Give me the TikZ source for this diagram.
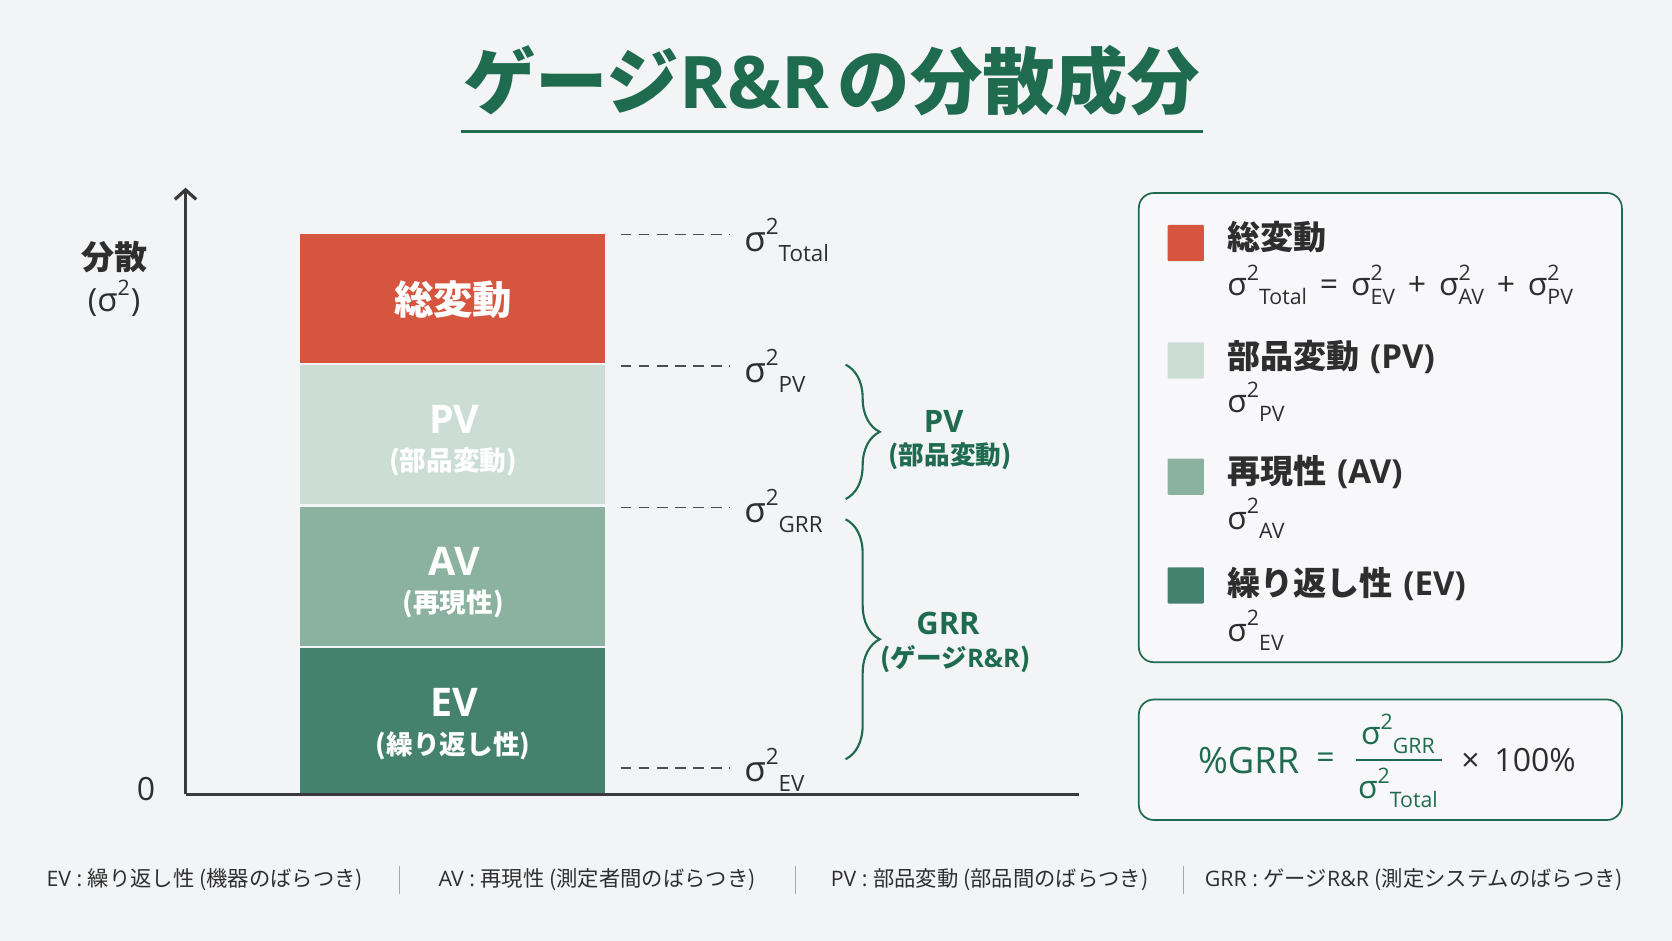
\documentclass[tikz,border=0pt]{standalone}
\usepackage{fontspec}
\setmainfont{Open Sans}
\newfontfamily\jp{Noto Sans CJK JP}
\usetikzlibrary{arrows.meta,decorations.pathreplacing}
\definecolor{bg}{HTML}{F3F4F6}
\definecolor{tgreen}{HTML}{1F6B4F}
\definecolor{cred}{HTML}{D5553F}
\definecolor{cpv}{HTML}{CCDDD6}
\definecolor{cav}{HTML}{8BB1A0}
\definecolor{cev}{HTML}{45826E}
\definecolor{ink}{HTML}{2E2E2E}
\definecolor{axisc}{HTML}{3A3A3A}
\newcommand\fs[1]{\fontsize{#1}{#1}\selectfont}
\newcommand\J[1]{{\jp #1}}
% sigma with superscript 2 then subscript after it
\newcommand\sig[3]{{\fs{#1}σ}\raisebox{0.48\dimexpr#1pt\relax}{\fs{#2}2}\raisebox{-0.28\dimexpr#1pt\relax}{\fs{#2}#3}}
% stacked version
\newcommand\sigst[3]{{\fs{#1}σ}\rlap{\raisebox{0.48\dimexpr#1pt\relax}{\fs{#2}2}}\raisebox{-0.28\dimexpr#1pt\relax}{\fs{#2}#3}}
\begin{document}
\begin{tikzpicture}[x=1pt,y=-1pt,
  txt/.style={inner sep=0pt,outer sep=0pt},
  barlbl/.style={txt,text=white,font=\bfseries},
  guide/.style={draw=axisc!90,line width=1.6pt,dash pattern=on 10pt off 7pt},
  brc/.style={draw=tgreen,line width=2pt,decorate,decoration={brace,amplitude=32pt}},
  gbox/.style={draw=tgreen,line width=1.6pt,rounded corners=14pt,fill=bg!60!white,minimum width=453pt,inner sep=0pt},
  swatch/.style={minimum width=34pt,minimum height=34pt,inner sep=0pt,rounded corners=1pt},
  leghead/.style={txt,anchor=west,text=ink,font=\bfseries\fs{31}},
  legsub/.style={txt,anchor=west,text=ink},
  foot/.style={txt,text=ink,font=\fs{20}},
  sep/.style={draw=gray!70,line width=1pt}
]
\useasboundingbox (0,0) rectangle (1568,882);
\fill[bg] (0,0) rectangle (1568,882);

% title
\node[txt,text=tgreen,font=\bfseries\fs{68}] (title) at (780,76) {\J{ゲージ}R\&R\hspace{8pt}\J{の分散成分}};
\coordinate (ulA) at (432,123);
\coordinate (ulB) at (1128,123);
\draw[tgreen,line width=3pt] (ulA) -- (ulB);

% bars
\fill[cred] (281,219) rectangle (567,340);
\fill[cpv] (281,342) rectangle (567,473);
\fill[cav] (281,475) rectangle (567,606);
\fill[cev] (281,608) rectangle (567,745);
\node[barlbl,font=\bfseries\fs{37}] (tot) at (425,281) {\J{総変動}};
\node[barlbl,font=\bfseries\fs{37}] (pv) at (426,393) {PV};
\node[barlbl,font=\fs{25}] (pvj) at (425,433) {\J{\bfseries(部品変動)}};
\node[barlbl,font=\bfseries\fs{37}] (av) at (426,526) {AV};
\node[barlbl,font=\fs{25}] (avj) at (425,566) {\J{\bfseries(再現性)}};
\node[barlbl,font=\bfseries\fs{37}] (ev) at (426,659) {EV};
\node[barlbl,font=\fs{25}] (evj) at (425,699) {\J{\bfseries(繰り返し性)}};

% axes
\coordinate (o) at (174,745);
\coordinate (ytop) at (174,176);
\coordinate (xend) at (1012,745);
\draw[axisc,line width=3pt,-{Straight Barb[length=9pt,width=20pt,line width=3pt]}] (o) -- (ytop);
\draw[axisc,line width=3pt] (o) -- (xend);
\node[txt,text=ink,font=\bfseries\fs{31}] (ylab) at (107,241) {\J{分散}};
\node[txt,text=ink,font=\fs{30}] (ylab2) at (107,282) {(\sig{31}{20}{}\hspace{1pt})};
\node[txt,text=ink,font=\fs{30}] (zero) at (137,740) {0};

% guide lines
\coordinate (g1) at (582,220); \coordinate (g1e) at (685,220);
\coordinate (g2) at (582,343); \coordinate (g2e) at (685,343);
\coordinate (g3) at (582,476); \coordinate (g3e) at (685,476);
\coordinate (g4) at (582,720); \coordinate (g4e) at (685,720);
\draw[guide] (g1) -- (g1e);
\draw[guide] (g2) -- (g2e);
\draw[guide] (g3) -- (g3e);
\draw[guide] (g4) -- (g4e);
\node[txt,anchor=west,text=ink] (s1) at (698,225) {\sig{33}{21}{Total}};
\node[txt,anchor=west,text=ink] (s2) at (698,348) {\sig{33}{21}{PV}};
\node[txt,anchor=west,text=ink] (s3) at (698,479) {\sig{33}{21}{GRR}};
\node[txt,anchor=west,text=ink] (s4) at (698,722) {\sig{33}{21}{EV}};

% braces
\coordinate (b1a) at (793,342); \coordinate (b1b) at (793,468);
\coordinate (b2a) at (793,487); \coordinate (b2b) at (793,712);
\draw[brc] (b1a) -- (b1b);
\draw[brc] (b2a) -- (b2b);
\node[txt,text=tgreen,font=\bfseries\fs{29}] (bpv) at (885,395) {PV};
\node[txt,text=tgreen,font=\bfseries\fs{24}] (bpvj) at (891,428) {\J{(部品変動)}};
\node[txt,text=tgreen,font=\bfseries\fs{29}] (bgrr) at (889,585) {GRR};
\node[txt,text=tgreen,font=\bfseries\fs{24}] (bgrrj) at (896,618) {\J{(ゲージ}R\&R\J{)}};

% legend
\node[gbox,minimum height=440pt] (leg) at (1294.5,401) {};
\node[swatch,fill=cred] (sw1) at (1112,228) {};
\node[swatch,fill=cpv] (sw2) at (1112,338) {};
\node[swatch,fill=cav] (sw3) at (1112,447) {};
\node[swatch,fill=cev] (sw4) at (1112,549) {};
\node[leghead] (l1) at (1151,222) {\J{総変動}};
\node[legsub] (l1f) at (1151,267) {\sig{30}{20}{Total}\fs{30}\hspace{12pt}=\hspace{12pt}\sigst{30}{20}{EV}\hspace{12pt}+\hspace{12pt}\sigst{30}{20}{AV}\hspace{12pt}+\hspace{12pt}\sigst{30}{20}{PV}};
\node[leghead] (l2) at (1151,335) {\J{部品変動}\hspace{10pt}(PV)};
\node[legsub] (l2f) at (1151,377) {\sig{30}{20}{PV}};
\node[leghead] (l3) at (1151,443) {\J{再現性}\hspace{10pt}(AV)};
\node[legsub] (l3f) at (1151,486) {\sig{30}{20}{AV}};
\node[leghead] (l4) at (1151,548) {\J{繰り返し性}\hspace{10pt}(EV)};
\node[legsub] (l4f) at (1151,591) {\sig{30}{20}{EV}};

% formula box
\node[gbox,minimum height=113pt] (fbox) at (1294.5,712.5) {};
\node[txt,text=tgreen,font=\fs{34}] (pg) at (1171,713) {\%GRR};
\node[txt,text=tgreen,font=\fs{30}] (eq) at (1243,713) {=};
\coordinate (fr1) at (1272,713); \coordinate (fr2) at (1352,713);
\draw[tgreen,line width=1.6pt] (fr1) -- (fr2);
\node[txt,text=tgreen] (num) at (1311,688) {\sig{30}{20}{GRR}};
\node[txt,text=tgreen] (den) at (1311,739) {\sig{30}{20}{Total}};
\node[txt,text=ink,font=\fs{30}] (times) at (1424,713) {×\hspace{14pt}100\%};

% footer
\node[foot] (f1) at (192,825) {EV : \J{繰り返し性 (機器のばらつき)}};
\node[foot] (f2) at (560,825) {AV : \J{再現性 (測定者間のばらつき)}};
\node[foot] (f3) at (928,825) {PV : \J{部品変動 (部品間のばらつき)}};
\node[foot] (f4) at (1326,825) {GRR : \J{ゲージ}R\&R \J{(測定システムのばらつき)}};
\coordinate (p1a) at (375,812); \coordinate (p1b) at (375,838);
\coordinate (p2a) at (746,812); \coordinate (p2b) at (746,838);
\coordinate (p3a) at (1110,812); \coordinate (p3b) at (1110,838);
\draw[sep] (p1a) -- (p1b);
\draw[sep] (p2a) -- (p2b);
\draw[sep] (p3a) -- (p3b);
\end{tikzpicture}
\end{document}
